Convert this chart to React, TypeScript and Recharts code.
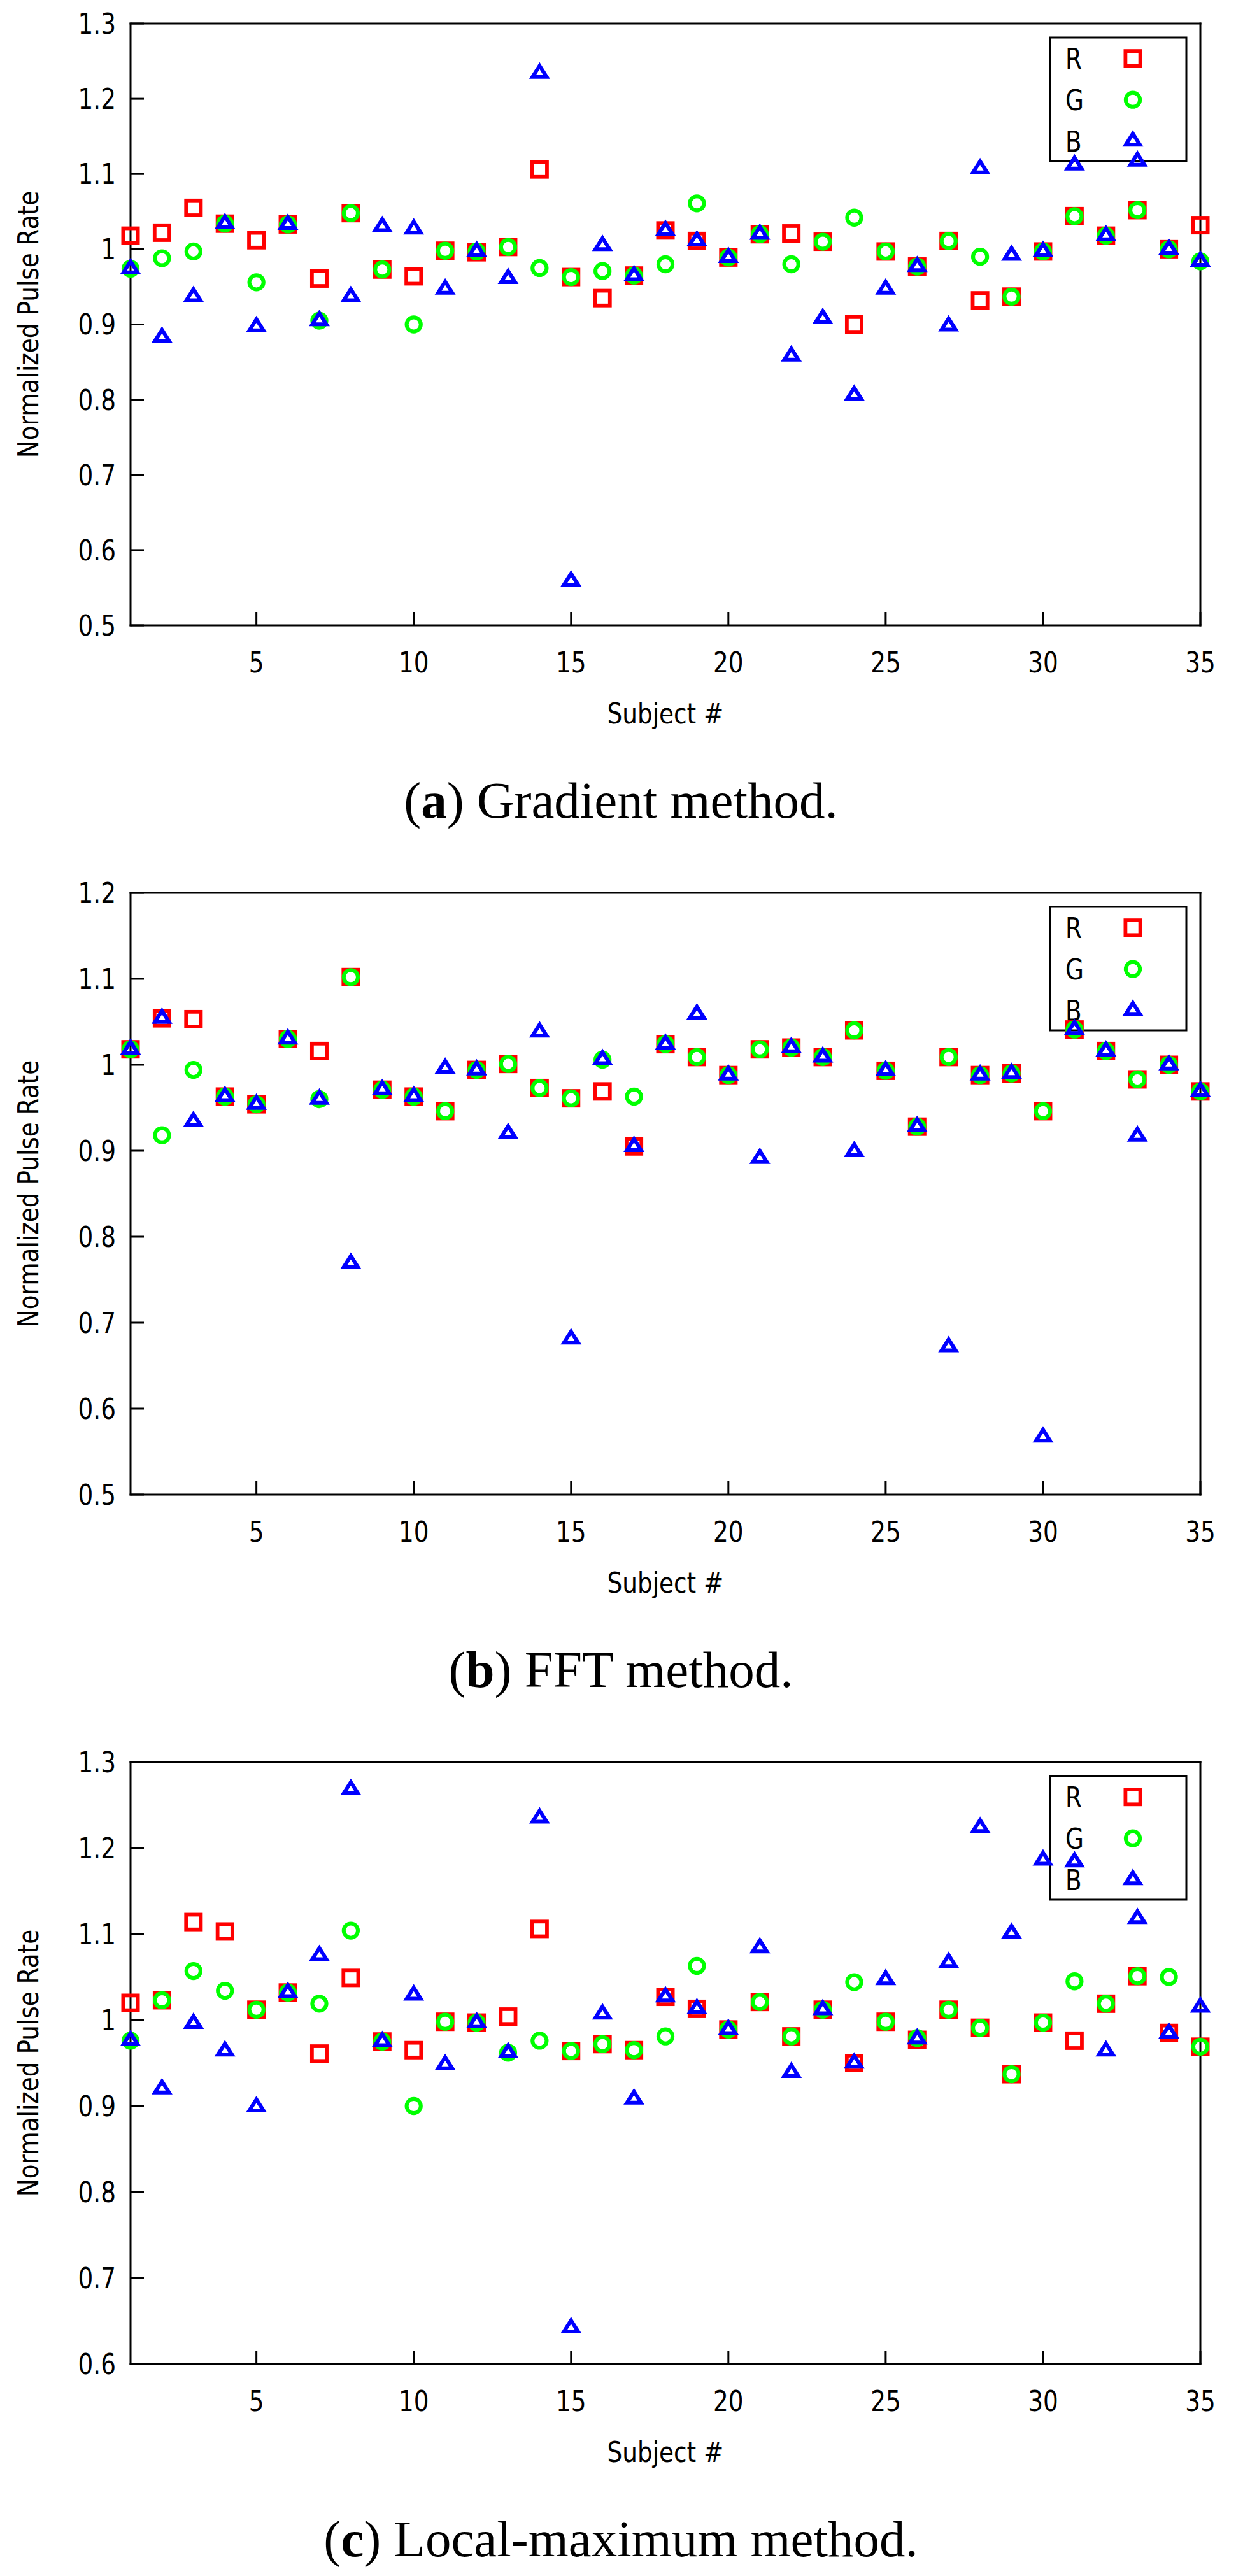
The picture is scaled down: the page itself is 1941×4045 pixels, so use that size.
import React from 'react';
import { ScatterChart, Scatter, XAxis, YAxis, Label } from 'recharts';

// ---------- data ----------
const SUBJECTS = [1, 2, 3, 4, 5, 6, 7, 8, 9, 10, 11, 12, 13, 14, 15, 16, 17, 18, 19, 20, 21, 22, 23, 24, 25, 26, 27, 28, 29, 30, 31, 32, 33, 34, 35];
const X_TICKS = [5, 10, 15, 20, 25, 30, 35];
const Y_TICKS_A = [0.5, 0.6, 0.7, 0.8, 0.9, 1.0, 1.1, 1.2, 1.3];
const Y_TICKS_B = [0.5, 0.6, 0.7, 0.8, 0.9, 1.0, 1.1, 1.2];
const Y_TICKS_C = [0.6, 0.7, 0.8, 0.9, 1.0, 1.1, 1.2, 1.3];
const SERIES_NAMES = ['R', 'G', 'B'];
const X_TITLE = 'Subject #';
const Y_TITLE = 'Normalized Pulse Rate';

// (a) Gradient method
const GRAD_R = [1.018, 1.022, 1.055, 1.034, 1.012, 1.033, 0.961, 1.048, 0.973, 0.964, 0.998, 0.996, 1.003, 1.106, 0.963, 0.935, 0.965, 1.025, 1.011, 0.989, 1.020, 1.021, 1.010, 0.900, 0.997, 0.977, 1.011, 0.932, 0.937, 0.997, 1.044, 1.018, 1.052, 1.000, 1.032];
const GRAD_G = [0.974, 0.988, 0.997, 1.034, 0.956, 1.033, 0.905, 1.048, 0.973, 0.900, 0.998, 0.997, 1.003, 0.975, 0.963, 0.971, 0.965, 0.980, 1.061, 0.989, 1.020, 0.980, 1.010, 1.042, 0.997, 0.977, 1.011, 0.990, 0.937, 0.997, 1.044, 1.018, 1.052, 1.000, 0.984];
const GRAD_B = [0.974, 0.883, 0.937, 1.034, 0.897, 1.033, 0.905, 0.937, 1.030, 1.027, 0.947, 0.997, 0.961, 1.234, 0.559, 1.005, 0.965, 1.025, 1.011, 0.989, 1.020, 0.858, 0.908, 0.806, 0.947, 0.977, 0.898, 1.107, 0.992, 0.997, 1.112, 1.018, 1.117, 1.000, 0.984];

// (b) FFT method
const FFT_R = [1.018, 1.054, 1.053, 0.963, 0.954, 1.030, 1.016, 1.102, 0.971, 0.963, 0.946, 0.994, 1.001, 0.973, 0.961, 0.969, 0.905, 1.024, 1.009, 0.988, 1.018, 1.020, 1.009, 1.040, 0.993, 0.928, 1.009, 0.988, 0.990, 0.946, 1.041, 1.016, 0.983, 1.000, 0.969];
const FFT_G = [1.018, 0.918, 0.994, 0.963, 0.954, 1.030, 0.960, 1.102, 0.971, 0.963, 0.946, 0.994, 1.001, 0.973, 0.961, 1.006, 0.963, 1.024, 1.009, 0.988, 1.018, 1.020, 1.009, 1.040, 0.993, 0.928, 1.009, 0.988, 0.990, 0.946, 1.041, 1.016, 0.983, 1.000, 0.969];
const FFT_B = [1.018, 1.054, 0.934, 0.963, 0.954, 1.030, 0.960, 0.769, 0.971, 0.963, 0.996, 0.994, 0.920, 1.038, 0.681, 1.006, 0.905, 1.024, 1.059, 0.988, 0.891, 1.020, 1.009, 0.899, 0.993, 0.928, 0.672, 0.988, 0.990, 0.567, 1.041, 1.016, 0.917, 1.000, 0.969];

// (c) Local-maximum method
const LOCAL_R = [1.020, 1.023, 1.114, 1.103, 1.012, 1.032, 0.961, 1.049, 0.975, 0.965, 0.998, 0.997, 1.004, 1.106, 0.964, 0.972, 0.965, 1.027, 1.013, 0.989, 1.021, 0.981, 1.012, 0.950, 0.998, 0.977, 1.012, 0.991, 0.937, 0.997, 0.976, 1.019, 1.051, 0.985, 0.969];
const LOCAL_G = [0.976, 1.023, 1.057, 1.034, 1.012, 1.032, 1.019, 1.104, 0.975, 0.900, 0.998, 0.997, 0.962, 0.976, 0.964, 0.972, 0.965, 0.981, 1.063, 0.989, 1.021, 0.981, 1.012, 1.044, 0.998, 0.979, 1.012, 0.991, 0.937, 0.997, 1.045, 1.019, 1.051, 1.050, 0.969];
const LOCAL_B = [0.976, 0.920, 0.996, 0.964, 0.899, 1.032, 1.075, 1.268, 0.975, 1.029, 0.948, 0.997, 0.962, 1.235, 0.642, 1.007, 0.908, 1.027, 1.013, 0.989, 1.084, 0.939, 1.012, 0.950, 1.047, 0.978, 1.067, 1.224, 1.101, 1.186, 1.184, 0.964, 1.118, 0.985, 1.015];

// ---------- styling ----------
const SANS = "'DejaVu Sans', 'Verdana', sans-serif";
const SERIF = "'Liberation Serif', 'Times New Roman', serif";
const FS = 45;
const SQUEEZE = 0.83;
const RED = '#FF0000';
const GREEN = '#00FF00';
const BLUE = '#0000FF';
const AXIS_LINE = { stroke: '#000', strokeWidth: 3, strokeLinecap: 'square' as const };
const TICK_LINE = { stroke: '#000', strokeWidth: 3 };

const CHART_W = 1941;
const CHART_H = 1190;
const X_AXIS_H = CHART_H - 982;
const BLOCK_H = 1365;

// Narrow sans text (gnuplot-like), squeezed along its own writing direction
function NarrowText({
  x,
  y,
  anchor,
  rotate,
  dy,
  children,
}: {
  x: number;
  y: number;
  anchor: 'start' | 'middle' | 'end';
  rotate?: number;
  dy?: string;
  children: React.ReactNode;
}) {
  return (
    <text
      transform={`translate(${x} ${y}) rotate(${rotate || 0}) scale(${SQUEEZE} 1)`}
      x={0}
      y={0}
      dy={dy}
      textAnchor={anchor}
      fontSize={FS}
      fontFamily={SANS}
      fill="#000"
    >
      {children}
    </text>
  );
}

const fmtY = (v: number) => String(Math.round(v * 10) / 10);

function XTick(p: any) {
  return (
    <NarrowText x={p.x} y={p.y} anchor="middle" dy="0.71em">
      {String(p.payload.value)}
    </NarrowText>
  );
}
function YTick(p: any) {
  return (
    <NarrowText x={p.x} y={p.y} anchor="end" dy="0.355em">
      {fmtY(p.payload.value)}
    </NarrowText>
  );
}

// ---------- markers ----------
function SquareMark({ cx, cy }: { cx: number; cy: number }) {
  const sw = 5.8;
  const s = 29 - sw;
  return <rect x={cx - s / 2} y={cy - s / 2} width={s} height={s} fill="none" stroke={RED} strokeWidth={sw} />;
}
function CircleMark({ cx, cy }: { cx: number; cy: number }) {
  return <circle cx={cx} cy={cy} r={11.1} fill="none" stroke={GREEN} strokeWidth={6.1} />;
}
function TriangleMark({ cx, cy }: { cx: number; cy: number }) {
  const w = 33;
  const h = 26;
  const top = cy - (h * 2) / 3;
  const bot = cy + h / 3;
  const leg = Math.sqrt((w / 2) * (w / 2) + h * h);
  const r = (w * h) / 2 / ((w + 2 * leg) / 2);
  const iy = bot - r;
  const k = (r - 6) / r;
  const P = [
    [cx, top],
    [cx - w / 2, bot],
    [cx + w / 2, bot],
  ];
  const Q = P.map(([px, py]) => [cx + k * (px - cx), iy + k * (py - iy)]);
  const d =
    `M${P[0][0]},${P[0][1]}L${P[1][0]},${P[1][1]}L${P[2][0]},${P[2][1]}Z` +
    `M${Q[0][0]},${Q[0][1]}L${Q[1][0]},${Q[1][1]}L${Q[2][0]},${Q[2][1]}Z`;
  return <path d={d} fill={BLUE} fillRule="evenodd" />;
}

const toPoints = (vals: number[]) => SUBJECTS.map((s, i) => ({ x: s, y: vals[i] }));

function LegendBox() {
  const rows = [
    { label: SERIES_NAMES[0], base: 108, cy: 91.7, M: SquareMark },
    { label: SERIES_NAMES[1], base: 173, cy: 156.7, M: CircleMark },
    { label: SERIES_NAMES[2], base: 238, cy: 221.7, M: TriangleMark },
  ];
  return (
    <svg width={CHART_W} height={CHART_H} style={{ position: 'absolute', left: 0, top: 0 }}>
      <rect x={1649} y={59} width={214} height={194} fill="none" stroke="#000" strokeWidth={3} />
      {rows.map((r) => (
        <g key={r.label}>
          <NarrowText x={1673} y={r.base} anchor="start">
            {r.label}
          </NarrowText>
          <r.M cx={1779} cy={r.cy} />
        </g>
      ))}
    </svg>
  );
}

interface PanelProps {
  yTicks: number[];
  r: number[];
  g: number[];
  b: number[];
  letter: string;
  caption: string;
}

function Panel({ yTicks, r, g, b, letter, caption }: PanelProps) {
  const yDomain = [yTicks[0], yTicks[yTicks.length - 1]];
  return (
    <div style={{ position: 'relative', width: CHART_W, height: BLOCK_H }}>
      <LegendBox />
      <div style={{ position: 'absolute', left: 0, top: 0 }}>
        <ScatterChart width={CHART_W} height={CHART_H} margin={{ top: 36, right: 55, bottom: 0, left: 0 }}>
          <XAxis
            xAxisId="b"
            type="number"
            dataKey="x"
            orientation="bottom"
            domain={[1, 35]}
            ticks={X_TICKS}
            interval={0}
            height={X_AXIS_H}
            tickSize={-21}
            tickMargin={63}
            axisLine={AXIS_LINE}
            tickLine={TICK_LINE}
            tick={XTick}
          >
            <Label
              content={(p: any) => {
                const vb = p && p.viewBox ? p.viewBox : { x: 205, y: 982, width: 1680, height: X_AXIS_H };
                return (
                  <NarrowText x={vb.x + vb.width / 2} y={vb.y + 154} anchor="middle">
                    {X_TITLE}
                  </NarrowText>
                );
              }}
            />
          </XAxis>
          <XAxis
            xAxisId="t"
            type="number"
            dataKey="x"
            orientation="top"
            domain={[1, 35]}
            ticks={X_TICKS}
            interval={0}
            height={1}
            tickSize={-21}
            axisLine={AXIS_LINE}
            tickLine={TICK_LINE}
            tick={false}
          />
          <YAxis
            yAxisId="l"
            type="number"
            dataKey="y"
            orientation="left"
            domain={yDomain}
            ticks={yTicks}
            interval={0}
            width={205}
            tickSize={-21}
            tickMargin={44}
            axisLine={AXIS_LINE}
            tickLine={TICK_LINE}
            tick={YTick}
          >
            <Label
              content={(p: any) => {
                const vb = p && p.viewBox ? p.viewBox : { x: 0, y: 37, width: 205, height: 945 };
                return (
                  <NarrowText x={vb.x + 60} y={vb.y + vb.height / 2} anchor="middle" rotate={-90}>
                    {Y_TITLE}
                  </NarrowText>
                );
              }}
            />
          </YAxis>
          <YAxis
            yAxisId="r"
            type="number"
            dataKey="y"
            orientation="right"
            domain={yDomain}
            ticks={yTicks}
            interval={0}
            width={1}
            tickSize={-21}
            axisLine={AXIS_LINE}
            tickLine={TICK_LINE}
            tick={false}
          />
          <Scatter
            name={SERIES_NAMES[0]}
            data={toPoints(r)}
            xAxisId="b"
            yAxisId="l"
            isAnimationActive={false}
            shape={(p: any) => <SquareMark cx={p.cx} cy={p.cy} />}
          />
          <Scatter
            name={SERIES_NAMES[1]}
            data={toPoints(g)}
            xAxisId="b"
            yAxisId="l"
            isAnimationActive={false}
            shape={(p: any) => <CircleMark cx={p.cx} cy={p.cy} />}
          />
          <Scatter
            name={SERIES_NAMES[2]}
            data={toPoints(b)}
            xAxisId="b"
            yAxisId="l"
            isAnimationActive={false}
            shape={(p: any) => <TriangleMark cx={p.cx} cy={p.cy} />}
          />
        </ScatterChart>
      </div>
      <div
        style={{
          position: 'absolute',
          left: 0,
          top: 1217,
          width: CHART_W,
          paddingLeft: 9,
          boxSizing: 'border-box',
          textAlign: 'center',
          fontFamily: SERIF,
          fontSize: 81,
          lineHeight: '81px',
          color: '#000',
          whiteSpace: 'nowrap',
        }}
      >
        (<b>{letter}</b>) {caption}
      </div>
    </div>
  );
}

export default function App() {
  return (
    <div style={{ width: CHART_W, height: 4045, overflow: 'hidden', background: '#fff', position: 'relative' }}>
      <style>{'body{margin:0;background:#fff;}'}</style>
      <Panel yTicks={Y_TICKS_A} r={GRAD_R} g={GRAD_G} b={GRAD_B} letter="a" caption="Gradient method." />
      <Panel yTicks={Y_TICKS_B} r={FFT_R} g={FFT_G} b={FFT_B} letter="b" caption="FFT method." />
      <Panel yTicks={Y_TICKS_C} r={LOCAL_R} g={LOCAL_G} b={LOCAL_B} letter="c" caption="Local-maximum method." />
    </div>
  );
}
